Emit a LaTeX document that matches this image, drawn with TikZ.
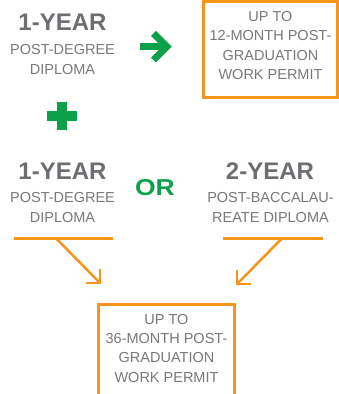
\documentclass[tikz,border=0pt]{standalone}
\usepackage{fontspec}
\setmainfont{Liberation Sans}
\usetikzlibrary{positioning}
\definecolor{hgray}{HTML}{6D6E71}
\definecolor{bgray}{HTML}{77787B}
\definecolor{ogreen}{HTML}{0DA04A}
\definecolor{orng}{HTML}{F7941D}
\tikzset{
  head/.style={font=\fontsize{24}{28}\selectfont\bfseries, text=hgray, inner sep=0pt, anchor=base},
  body/.style={font=\fontsize{14.5}{19.3}\selectfont, text=bgray, align=center, inner sep=0pt, anchor=base},
  obox/.style={draw=orng, line width=3pt, inner sep=0pt},
  oline/.style={draw=orng, line width=2.5pt},
  garrow/.style={draw=ogreen, line width=7pt, miter limit=10},
}
\begin{document}
\begin{tikzpicture}[x=1pt,y=-1pt]
\useasboundingbox (0,0) rectangle (339,394);
\clip (0,0) rectangle (339,394);
% top left block
\node[head] (h1) at (62.5,30) {1-YEAR};
\node[body] (b1) at (62.5,74) {POST-DEGREE\\DIPLOMA};
% green arrow
\coordinate (ga1) at (140,46.7);
\coordinate (ga2) at (164,46.7);
\coordinate (gt) at (166.8,46.7);
\draw[garrow] (ga1) -- (ga2);
\draw[garrow, line join=miter] (gt) ++(-13.3,-13.3) -- (gt) -- ++(-13.3,13.3);
% top box
\node[obox, minimum width=134pt, minimum height=96pt] (box1) at (270.5,49) {};
\node[body] (t1) at (270.5,79.5) {UP TO\\12-MONTH POST-\\GRADUATION\\WORK PERMIT};
% plus
\fill[ogreen] (47.3,111) rectangle (76.7,121);
\fill[ogreen] (57.3,101.7) rectangle (66.7,130);
% second row
\node[head] (h2) at (62.5,179) {1-YEAR};
\node[body] (b2) at (62.5,222) {POST-DEGREE\\DIPLOMA};
\node[font=\fontsize{23}{26}\selectfont\bfseries, text=ogreen, inner sep=0pt, anchor=base] (or) at (155,195) {\scalebox{1.15}[1]{OR}};
\node[head] (h3) at (270,179) {2-YEAR};
\node[body] (b3) at (270.5,222) {POST-BACCALAU-\\REATE DIPLOMA};
% orange lines
\coordinate (l1) at (14,238.3);
\coordinate (l2) at (113,238.3);
\coordinate (l3) at (56,238.3);
\coordinate (lt) at (100,283);
\draw[oline] (l1) -- (l2);
\draw[oline] (l3) -- (lt);
\draw[oline, line join=miter] (lt) ++(-14,0) -- (lt) -- ++(0,-14);
\coordinate (r1) at (223,238.3);
\coordinate (r2) at (323,238.3);
\coordinate (r3) at (282,238.3);
\coordinate (rt) at (237,284);
\draw[oline] (r1) -- (r2);
\draw[oline] (r3) -- (rt);
\draw[oline, line join=miter] (rt) ++(14,0) -- (rt) -- ++(0,-14);
% bottom box
\node[obox, minimum width=136.4pt, minimum height=120pt] (box2) at (166.5,364.3) {};
\node[body] (t2) at (166.5,382) {UP TO\\36-MONTH POST-\\GRADUATION\\WORK PERMIT};
\end{tikzpicture}
\end{document}
